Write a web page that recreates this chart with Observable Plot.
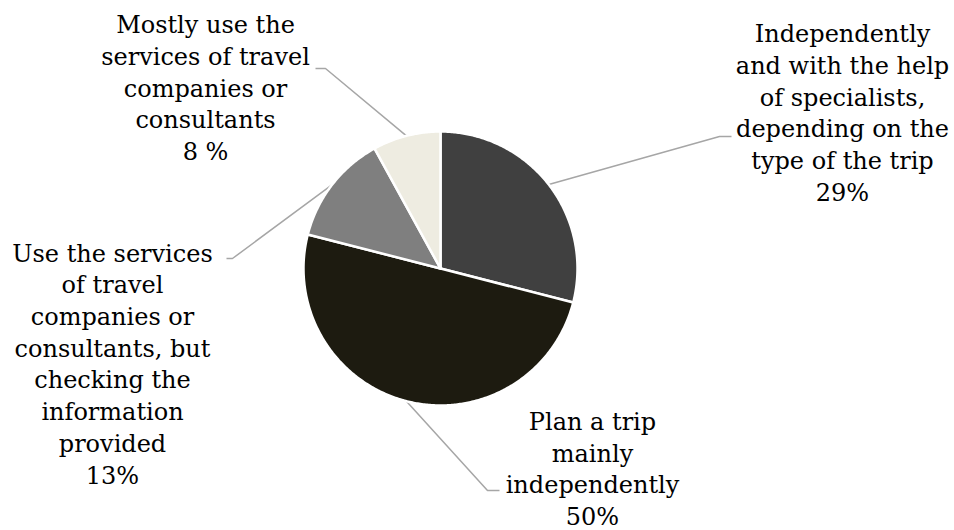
<!DOCTYPE html>
<html>
<head>
<meta charset="utf-8">
<script src="https://cdn.jsdelivr.net/npm/d3@7"></script>
<script src="https://cdn.jsdelivr.net/npm/@observablehq/plot@0.6"></script>
<style>
  html, body { margin: 0; padding: 0; background: #fff; }
</style>
</head>
<body>
<div id="chart"></div>
<script>
// ---- data ----
const categories = [
  "Independently and with the help of specialists, depending on the type of the trip",
  "Plan a trip mainly independently",
  "Use the services of travel companies or consultants, but checking the information provided",
  "Mostly use the services of travel companies or consultants"
];
const values = [29, 50, 13, 8];
const percentLabels = ["29%", "50%", "13%", "8 %"];
const wrappedLabels = [
  ["Independently", "and with the help", "of specialists,", "depending on the", "type of the trip"],
  ["Plan a trip", "mainly", "independently"],
  ["Use the services", "of travel", "companies or", "consultants, but", "checking the", "information", "provided"],
  ["Mostly use the", "services of travel", "companies or", "consultants"]
];
const colors = ["#404040", "#1d1b10", "#7f7f7f", "#eeece1"];

// ---- layout (pixels) ----
const W = 954, H = 530, CX = 440, CY = 268, R = 137;
const labelCenters = [[842, 111], [592, 467], [112, 362], [205, 86]];
const elbows = [[[719, 136], [731, 136]], [[487, 490], [499, 490]], [[232, 258], [226, 258]], [[325, 68], [315, 68]]];
const u = px => (px - CX) / R;
const v = py => (CY - py) / R;

// ---- geometry from data ----
const arcs = d3.pie().sort(null).startAngle(0).endAngle(2 * Math.PI)(values);
const slicePts = [];
arcs.forEach((a, i) => {
  slicePts.push({k: categories[i], x: 0, y: 0});
  const n = Math.max(2, Math.ceil((a.endAngle - a.startAngle) / 0.01));
  for (let j = 0; j <= n; j++) {
    const t = a.startAngle + (a.endAngle - a.startAngle) * j / n;
    slicePts.push({k: categories[i], x: Math.sin(t), y: Math.cos(t)});
  }
  slicePts.push({k: categories[i], x: 0, y: 0});
});
const leaderPts = [];
arcs.forEach((a, i) => {
  const m = (a.startAngle + a.endAngle) / 2;
  leaderPts.push({k: categories[i], x: Math.sin(m), y: Math.cos(m)});
  elbows[i].forEach(([px, py]) => leaderPts.push({k: categories[i], x: u(px), y: v(py)}));
});
const labels = categories.map((c, i) => ({
  k: c,
  x: u(labelCenters[i][0]),
  y: v(labelCenters[i][1]),
  text: wrappedLabels[i].concat([percentLabels[i]]).join("\n")
}));

const chart = Plot.plot({
  width: W,
  height: H,
  margin: 0,
  x: {domain: [u(0), u(W)], axis: null},
  y: {domain: [v(H), v(0)], axis: null},
  color: {domain: categories, range: colors},
  style: {fontFamily: "'DejaVu Serif', serif", background: "#fff"},
  marks: [
    Plot.line(leaderPts, {x: "x", y: "y", z: "k", stroke: "#a6a6a6", strokeWidth: 1.5, strokeLinejoin: "miter", strokeLinecap: "butt"}),
    Plot.line(slicePts, {x: "x", y: "y", z: "k", fill: "k", stroke: "#ffffff", strokeWidth: 2.5, strokeLinejoin: "round"}),
    Plot.text(labels, {x: "x", y: "y", text: "text", fontSize: 24, lineHeight: 1.32, lineAnchor: "middle", textAnchor: "middle", fill: "#000"})
  ]
});
document.getElementById("chart").appendChild(chart);
</script>
</body>
</html>
